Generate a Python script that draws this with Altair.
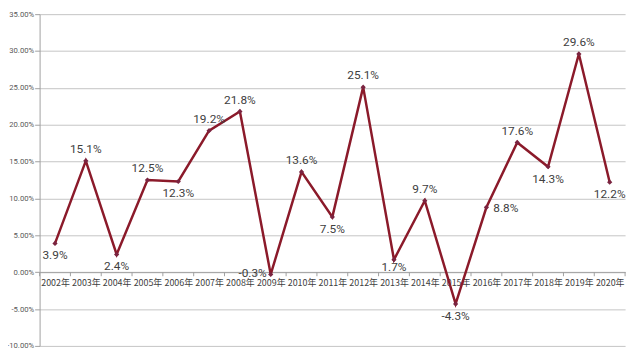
import altair as alt
import pandas as pd

years = ["2002年", "2003年", "2004年", "2005年", "2006年", "2007年", "2008年",
         "2009年", "2010年", "2011年", "2012年", "2013年", "2014年", "2015年",
         "2016年", "2017年", "2018年", "2019年", "2020年"]
values = [3.9, 15.1, 2.4, 12.5, 12.3, 19.2, 21.8, -0.3, 13.6, 7.5,
          25.1, 1.7, 9.7, -4.3, 8.8, 17.6, 14.3, 29.6, 12.2]
label_side = ["below", "above", "below", "above", "below", "above", "above",
              "left", "above", "below", "above", "below_near", "above", "below",
              "right", "above", "below", "above", "below"]
y_ticks = [-10, -5, 0, 5, 10, 15, 20, 25, 30, 35]

year_num = [int(y[:4]) for y in years]
df = pd.DataFrame({
    "year": years,
    "x": year_num,
    "v": values,
    "label": [f"{v}%" for v in values],
    "side": label_side,
})
bounds = pd.DataFrame({"b": [n - 0.5 for n in year_num] + [year_num[-1] + 0.5]})

W, H = 593, 336
ymin, ymax = y_ticks[0], y_ticks[-1]
zero_from_bottom = H * (0 - ymin) / (ymax - ymin)

LINE = "#8B1A2A"
GRID = "#c4c4c4"
TXT = "#404040"
AXC = "#a0a0a0"

xscale = alt.Scale(domain=[year_num[0] - 0.5, year_num[-1] + 0.5], nice=False, zero=False)
yscale = alt.Scale(domain=[ymin, ymax], nice=False, zero=False)

xaxis = alt.Axis(values=year_num, labelExpr="datum.value + '年'", offset=-zero_from_bottom)
yaxis = alt.Axis(values=y_ticks, labelExpr="datum.value + '.00%'")

base = alt.Chart(df)

line = base.mark_line(color=LINE, strokeWidth=2.5).encode(
    x=alt.X("x:Q", scale=xscale, axis=xaxis),
    y=alt.Y("v:Q", scale=yscale, axis=yaxis),
)
points = base.mark_point(shape="diamond", filled=True, size=28, color="#7A2440", opacity=1).encode(
    x=alt.X("x:Q", axis=xaxis), y=alt.Y("v:Q", axis=yaxis)
)
ticks = alt.Chart(bounds).mark_rule(color=AXC, strokeWidth=1).encode(
    x=alt.X("b:Q", scale=xscale, axis=xaxis),
    y=alt.Y(datum=0, axis=yaxis),
    y2=alt.datum(-0.55),
)

def labels(side, **kw):
    return base.transform_filter(alt.datum.side == side).mark_text(
        font="Roboto", fontSize=12, color=TXT, **kw
    ).encode(x=alt.X("x:Q", axis=xaxis), y=alt.Y("v:Q", axis=yaxis), text="label:N")

above = labels("above", dy=-12, baseline="middle", align="center")
below = labels("below", dy=12, baseline="middle", align="center")
below_near = labels("below_near", dy=8, baseline="middle", align="center")
left = labels("left", dx=-4, dy=-1, baseline="middle", align="right")
right = labels("right", dx=7, dy=1, baseline="middle", align="left")

chart = alt.layer(line, ticks, points, above, below, below_near, left, right).properties(
    width=W, height=H,
    autosize=alt.AutoSizeParams(type="none"),
    padding={"left": 32, "top": 4, "right": 7, "bottom": 8},
).configure_view(stroke=None).configure_axisX(
    title=None, grid=False, ticks=False, tickSize=0, domain=True,
    domainColor=AXC, domainWidth=1,
    labelFont="Noto Sans CJK SC", labelFontSize=9, labelColor=TXT,
    labelPadding=7, labelFlush=False, labelOverlap=False, labelBound=False,
).configure_axisY(
    title=None, grid=True, gridColor=GRID, gridWidth=1, domain=True,
    domainColor=AXC, ticks=True, tickSize=5, tickColor=AXC, labelPadding=1,
    labelFont="Roboto", labelFontSize=7.8, labelColor="#595959",
    labelOverlap=False, labelFlush=False,
)

chart.save("out.html", embed_options={"renderer": "svg", "actions": False})
